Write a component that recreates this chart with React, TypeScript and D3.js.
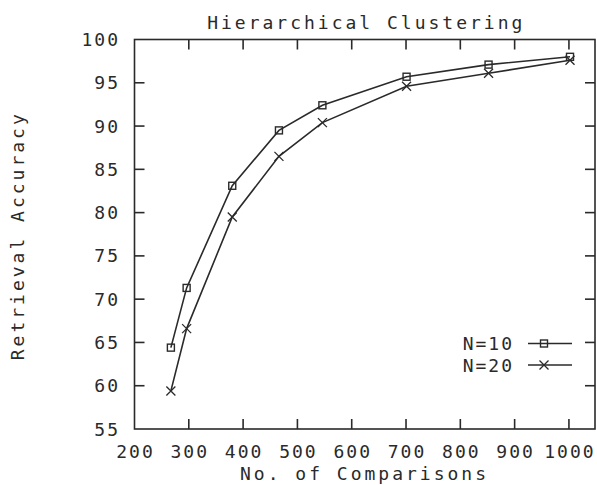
import { useEffect, useRef } from "react";
import * as d3 from "d3";

const comparisons = [267, 296, 380, 466, 546, 701, 852, 1002];
const accN10 = [64.4, 71.3, 83.1, 89.5, 92.4, 95.7, 97.1, 98.0];
const accN20 = [59.4, 66.6, 79.5, 86.5, 90.4, 94.6, 96.1, 97.6];
const xTicks = [200, 300, 400, 500, 600, 700, 800, 900, 1000];
const yTicks = [55, 60, 65, 70, 75, 80, 85, 90, 95, 100];
const seriesNames = ["N=10", "N=20"];

const W = 597;
const H = 485;
const FONT = "'DejaVu Sans Mono', monospace";
const INK = "#2a2a2a";

export default function App() {
  const ref = useRef<SVGSVGElement | null>(null);

  useEffect(() => {
    if (!ref.current) return;
    const svg = d3.select(ref.current);
    svg.selectAll("*").remove();

    const m = { t: 39.5, r: 2, b: 56, l: 134.5 };
    const x = d3.scaleLinear().domain([200, 1048]).range([m.l, W - m.r]);
    const y = d3.scaleLinear().domain([55, 100]).range([H - m.b, m.t]);
    const [x0, x1] = x.range();
    const [y0, y1] = y.range();
    const tk = 10;

    // text helper; ls = letter spacing, trailing gap is compensated by anchor
    const label = (
      tx: number,
      ty: number,
      s: string | number,
      anchor: "start" | "middle" | "end",
      ls: number
    ) => {
      const shift = anchor === "middle" ? ls / 2 : anchor === "end" ? ls : 0;
      return svg
        .append("text")
        .attr("font-family", FONT)
        .attr("font-size", 18)
        .attr("letter-spacing", ls)
        .attr("fill", INK)
        .attr("x", tx + shift)
        .attr("y", ty)
        .attr("text-anchor", anchor)
        .text(s);
    };

    // frame
    svg
      .append("rect")
      .attr("x", x0)
      .attr("y", y1)
      .attr("width", x1 - x0)
      .attr("height", y0 - y1)
      .attr("fill", "none")
      .attr("stroke", INK)
      .attr("stroke-width", 1.6);

    // ticks, mirrored like gnuplot
    const tg = svg.append("g").attr("stroke", INK).attr("stroke-width", 1.6);
    xTicks.slice(1).forEach((v) => {
      tg.append("line").attr("x1", x(v)).attr("x2", x(v)).attr("y1", y0).attr("y2", y0 - tk);
      tg.append("line").attr("x1", x(v)).attr("x2", x(v)).attr("y1", y1).attr("y2", y1 + tk);
    });
    yTicks.slice(1, -1).forEach((v) => {
      tg.append("line").attr("x1", x0).attr("x2", x0 + tk).attr("y1", y(v)).attr("y2", y(v));
      tg.append("line").attr("x1", x1).attr("x2", x1 - tk).attr("y1", y(v)).attr("y2", y(v));
    });

    xTicks.forEach((v) => label(x(v), 458, v, "middle", 2));
    yTicks.forEach((v) => label(118, y(v) + 6.5, v, "end", 2));

    label((x0 + x1) / 2, 29, "Hierarchical Clustering", "middle", 3);
    label(363, 480, "No. of Comparisons", "middle", 3);
    label(0, 0, "Retrieval Accuracy", "middle", 3)
      .attr("x", 1.5)
      .attr("transform", `translate(24,${(y0 + y1) / 2 + 3}) rotate(-90)`);

    const line = d3
      .line<number>()
      .x((_, i) => x(comparisons[i]))
      .y((d) => y(d));

    const square = (g: d3.Selection<SVGGElement, unknown, null, undefined>, cx: number, cy: number) =>
      g
        .append("rect")
        .attr("x", cx - 3.5)
        .attr("y", cy - 3.5)
        .attr("width", 7)
        .attr("height", 7)
        .attr("fill", "none")
        .attr("stroke", INK)
        .attr("stroke-width", 1.4);
    const cross = (g: d3.Selection<SVGGElement, unknown, null, undefined>, cx: number, cy: number) =>
      g
        .append("path")
        .attr("d", `M${cx - 4.5},${cy - 4.5}L${cx + 4.5},${cy + 4.5}M${cx - 4.5},${cy + 4.5}L${cx + 4.5},${cy - 4.5}`)
        .attr("stroke", INK)
        .attr("stroke-width", 1.3);

    const series = [accN10, accN20];
    const markers = [square, cross];
    series.forEach((data, si) => {
      const g = svg.append("g");
      g.append("path")
        .datum(data)
        .attr("fill", "none")
        .attr("stroke", INK)
        .attr("stroke-width", 1.6)
        .attr("d", line);
      data.forEach((d, i) => markers[si](g, x(comparisons[i]), y(d)));

      // legend
      const ly = 343.5 + si * 21.5;
      label(512, ly + 6.5, seriesNames[si], "end", 2);
      g.append("line")
        .attr("x1", 528)
        .attr("x2", 572)
        .attr("y1", ly)
        .attr("y2", ly)
        .attr("stroke", INK)
        .attr("stroke-width", 1.6);
      markers[si](g, 544, ly);
    });
  }, []);

  return (
    <svg
      ref={ref}
      width={W}
      height={H}
      style={{ position: "absolute", left: 0, top: 0, background: "#fff" }}
    />
  );
}
